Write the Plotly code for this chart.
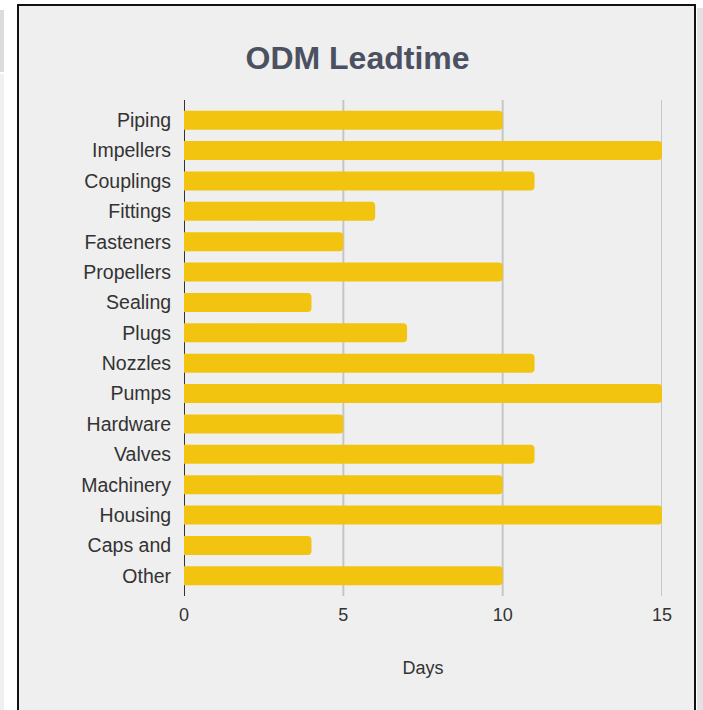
import plotly.graph_objects as go

categories = ["Piping", "Impellers", "Couplings", "Fittings", "Fasteners", "Propellers",
              "Sealing", "Plugs", "Nozzles", "Pumps", "Hardware", "Valves", "Machinery",
              "Housing", "Caps and", "Other"]
days = [10, 15, 11, 6, 5, 10, 4, 7, 11, 15, 5, 11, 10, 15, 4, 10]
x_ticks = [0, 5, 10, 15]

W, H = 703, 710
L, R, T, B = 184, 662, 105, 591  # plot area in pixels


def px_x(px):
    return (px - L) / (R - L)


def px_y(py):
    return (B - py) / (B - T)


FONT = "Liberation Sans, Arial, sans-serif"

fig = go.Figure()
fig.add_trace(go.Bar(
    x=days, y=categories, orientation="h",
    marker=dict(color="#F2C40F", cornerradius=4, line=dict(width=0)),
    hoverinfo="x+y",
))

shapes = []
# outer panel
shapes.append(dict(type="rect", xref="paper", yref="paper",
                   x0=px_x(0), x1=px_x(4), y0=px_y(72), y1=px_y(10),
                   fillcolor="#dcdcdc", line=dict(width=0), layer="below"))
shapes.append(dict(type="rect", xref="paper", yref="paper",
                   x0=px_x(0), x1=px_x(4), y0=px_y(720), y1=px_y(74),
                   fillcolor="#f0f0f0", line=dict(width=0), layer="below"))
shapes.append(dict(type="rect", xref="paper", yref="paper",
                   x0=px_x(697), x1=px_x(703), y0=px_y(720), y1=px_y(8),
                   fillcolor="#e2e2e2", line=dict(width=0), layer="below"))
shapes.append(dict(type="rect", xref="paper", yref="paper",
                   x0=px_x(18), x1=px_x(695), y0=px_y(716), y1=px_y(5),
                   fillcolor="#efefef", line=dict(color="#111111", width=2), layer="below"))
# grid lines
for t in x_ticks:
    shapes.append(dict(type="line", xref="x", yref="paper",
                       x0=t, x1=t, y0=px_y(596), y1=px_y(100),
                       line=dict(color="#333333" if t == 0 else "#c6c6c6", width=2),
                       layer="below"))

fig.update_layout(
    width=W, height=H,
    margin=dict(l=L, r=W - R, t=T, b=H - B, pad=0),
    paper_bgcolor="white",
    plot_bgcolor="rgba(0,0,0,0)",
    bargap=0.374,
    showlegend=False,
    shapes=shapes,
    font=dict(family=FONT, color="#333333"),
    title=dict(text="<b>ODM Leadtime</b>", x=357.5 / W, xanchor="center",
               y=1 - 58 / H, yanchor="middle", yref="container",
               font=dict(family=FONT, size=32, color="#4B5161")),
    xaxis=dict(range=[0, 15], tickvals=x_ticks, showgrid=False, zeroline=False,
               showline=False, ticks="outside", ticklen=0, ticklabelstandoff=7,
               tickfont=dict(size=18, color="#333333"),
               title=dict(text="Days", standoff=37, font=dict(size=18, color="#333333"))),
    yaxis=dict(categoryorder="array", categoryarray=categories, autorange="reversed",
               showgrid=False, zeroline=False, showline=False, ticks="outside",
               ticklen=0, ticklabelstandoff=8,
               tickfont=dict(size=19.5, color="#333333")),
)

fig.write_html("out.html", config={"displayModeBar": False},
               post_script="document.body.style.margin='0';document.body.style.overflow='hidden';")
